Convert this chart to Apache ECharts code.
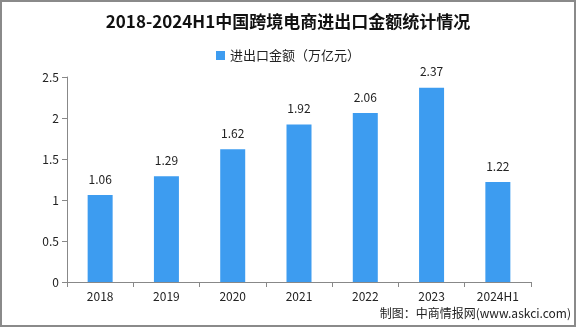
<!DOCTYPE html>
<html>
<head>
<meta charset="utf-8">
<script src="https://cdn.jsdelivr.net/npm/echarts@6/dist/echarts.min.js"></script>
<style>
html,body{margin:0;padding:0;background:#fff;}
#frame{position:absolute;left:0;top:0;width:572px;height:323px;border:2px solid #8a8a8a;}
#chart{position:absolute;left:0;top:0;width:576px;height:327px;}
</style>
</head>
<body>
<div id="frame"></div>
<div id="chart"></div>
<script>
const categories = ['2018', '2019', '2020', '2021', '2022', '2023', '2024H1'];
const values = [1.06, 1.29, 1.62, 1.92, 2.06, 2.37, 1.22];
const seriesName = '进出口金额（万亿元）';
const titleText = '2018-2024H1中国跨境电商进出口金额统计情况';
const footerText = '制图：中商情报网(www.askci.com)';

const chart = echarts.init(document.getElementById('chart'), null, {renderer: 'canvas'});
const font = '"Noto Sans CJK SC", "DejaVu Sans", sans-serif';
chart.setOption({
  animation: false,
  backgroundColor: 'transparent',
  title: {
    text: titleText,
    left: 'center',
    top: 8,
    textStyle: {fontFamily: '"Noto Sans CJK SC", serif', fontSize: 17, fontWeight: 'bold', color: '#111'}
  },
  legend: {
    data: [seriesName],
    top: 44,
    left: 'center',
    itemWidth: 9,
    itemHeight: 9,
    icon: 'rect',
    itemGap: 4,
    textStyle: {fontFamily: font, fontSize: 13, color: '#222'}
  },
  grid: {left: 67, right: 45, top: 77, bottom: 45, containLabel: false},
  xAxis: {
    type: 'category',
    data: categories,
    axisLine: {lineStyle: {color: '#888', width: 1}},
    axisTick: {show: true, length: 5, lineStyle: {color: '#888'}},
    axisLabel: {fontFamily: font, fontSize: 12, color: '#222', margin: 8}
  },
  yAxis: {
    type: 'value',
    min: 0,
    max: 2.5,
    interval: 0.5,
    axisLine: {show: true, lineStyle: {color: '#888', width: 1}},
    axisTick: {show: true, length: 5, lineStyle: {color: '#888'}},
    splitLine: {show: false},
    axisLabel: {fontFamily: font, fontSize: 12, color: '#222', margin: 8}
  },
  series: [{
    name: seriesName,
    type: 'bar',
    data: values,
    barWidth: 25,
    itemStyle: {color: '#3d9cf0'},
    label: {show: true, position: 'top', distance: 10, fontFamily: font, fontSize: 12, color: '#222'}
  }],
  graphic: [{
    type: 'text',
    right: 5,
    top: 307,
    style: {text: footerText, font: '12px "Noto Sans CJK SC", sans-serif', fill: '#222'}
  }]
});
</script>
</body>
</html>
